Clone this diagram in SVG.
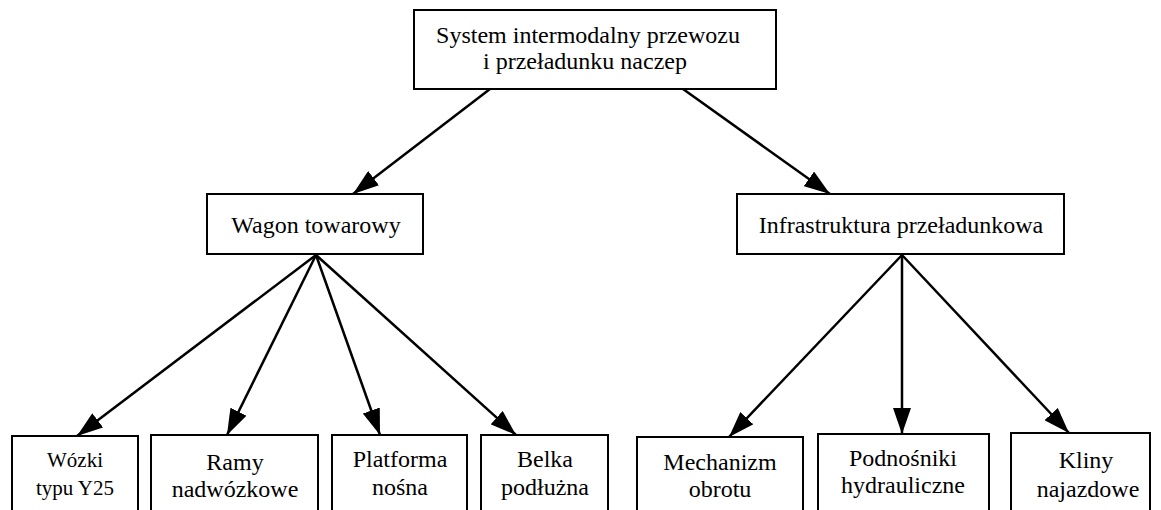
<svg xmlns="http://www.w3.org/2000/svg" width="1161" height="510" viewBox="0 0 1161 510">
<style>
.box{fill:#fff;stroke:#000;stroke-width:2}
.t{font-family:"Liberation Serif","Times New Roman",serif;font-size:24px;fill:#000;text-anchor:middle}
.s{font-size:21px}
.c{stroke:#000;stroke-width:2.5;fill:none;marker-end:url(#ah)}
</style>
<defs>
<marker id="ah" markerUnits="userSpaceOnUse" markerWidth="26" markerHeight="18" refX="26" refY="9" orient="auto">
<path d="M0,0 L26,9 L0,18 z" fill="#000"/>
</marker>
</defs>
<rect width="1161" height="510" fill="#fff"/>
<g id="connectors">
<line class="c" x1="490" y1="89" x2="353" y2="194"/>
<line class="c" x1="683" y1="89" x2="830" y2="194"/>
<line class="c" x1="316" y1="255" x2="77" y2="436"/>
<line class="c" x1="316" y1="255" x2="227" y2="435"/>
<line class="c" x1="316" y1="255" x2="380" y2="435"/>
<line class="c" x1="316" y1="255" x2="516" y2="435"/>
<line class="c" x1="902" y1="255" x2="729" y2="437"/>
<line class="c" x1="902" y1="255" x2="902" y2="434"/>
<line class="c" x1="902" y1="255" x2="1069" y2="433"/>
</g>
<g id="root">
<rect class="box" x="414" y="10" width="362" height="79"/>
<text class="t" x="588" y="43">System intermodalny przewozu</text>
<text class="t" x="585" y="69">i przeładunku naczep</text>
</g>
<g id="wagon">
<rect class="box" x="207" y="194" width="216" height="60"/>
<text class="t" x="316" y="233">Wagon towarowy</text>
</g>
<g id="infra">
<rect class="box" x="737" y="194" width="327" height="60"/>
<text class="t" x="901" y="233">Infrastruktura przeładunkowa</text>
</g>
<g id="wozki">
<rect class="box" x="12" y="436" width="126" height="80"/>
<text class="t s" x="75" y="467">Wózki</text>
<text class="t s" x="75" y="495">typu Y25</text>
</g>
<g id="ramy">
<rect class="box" x="151" y="435" width="167" height="80"/>
<text class="t" x="235" y="470">Ramy</text>
<text class="t" x="235" y="497">nadwózkowe</text>
</g>
<g id="platforma">
<rect class="box" x="332" y="435" width="135" height="80"/>
<text class="t" x="400" y="467">Platforma</text>
<text class="t" x="400" y="495">nośna</text>
</g>
<g id="belka">
<rect class="box" x="481" y="435" width="127" height="80"/>
<text class="t" x="545" y="467">Belka</text>
<text class="t" x="545" y="495">podłużna</text>
</g>
<g id="mechanizm">
<rect class="box" x="637" y="437" width="166" height="80"/>
<text class="t" x="720" y="470">Mechanizm</text>
<text class="t" x="720" y="497">obrotu</text>
</g>
<g id="podnosniki">
<rect class="box" x="818" y="434" width="171" height="80"/>
<text class="t" x="903" y="466">Podnośniki</text>
<text class="t" x="903" y="493">hydrauliczne</text>
</g>
<g id="kliny">
<rect class="box" x="1011" y="433" width="139" height="80"/>
<text class="t" x="1086" y="468">Kliny</text>
<text class="t" x="1088" y="497">najazdowe</text>
</g>
</svg>
